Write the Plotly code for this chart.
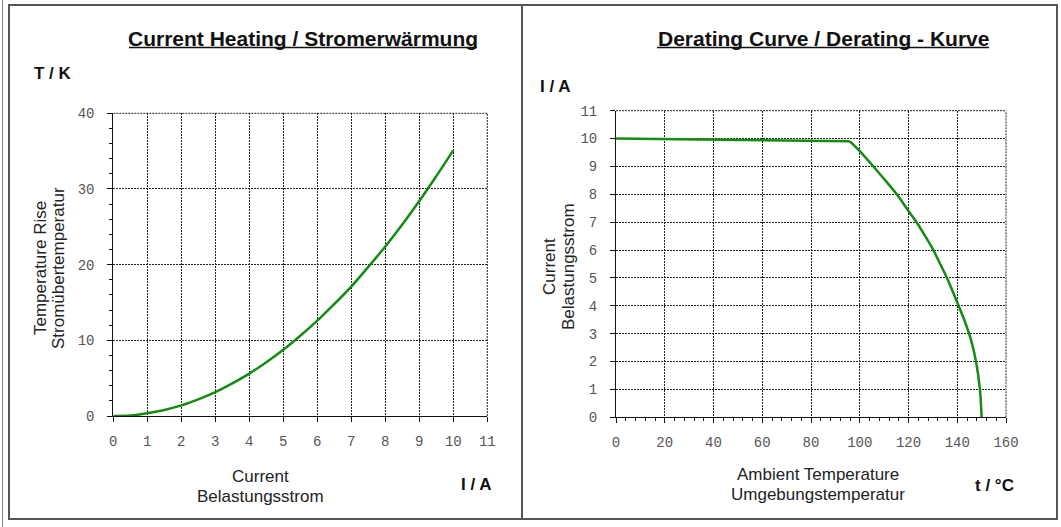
import plotly.graph_objects as go

W, H = 1061, 527

# Current heating: load current (A) vs temperature rise (K)
heat_current = [0, 0.5, 1, 1.5, 2, 2.5, 3, 3.5, 4, 4.5, 5, 5.5, 6, 6.5, 7, 7.5, 8, 8.5, 9, 9.5, 10]
heat_rise = [0, 0.05, 0.35, 0.8, 1.4, 2.2, 3.15, 4.3, 5.6, 7.1, 8.75, 10.6, 12.6, 14.8, 17.1, 19.7, 22.4, 25.3, 28.4, 31.7, 35.1]

# Derating curve: ambient temperature (°C) vs permissible current (A)
derate_temp = [0, 40, 80, 96, 100, 105.6, 110, 115.2, 120, 123.3, 127, 130.2, 133, 135.8, 140, 143.2, 145.5, 147.7, 149.3, 150]
derate_current = [10.0, 9.95, 9.92, 9.9, 9.55, 9.0, 8.55, 8.0, 7.4, 7.0, 6.48, 6.0, 5.5, 5.0, 4.12, 3.42, 2.82, 2.0, 1.0, 0]
KNEE = 3  # index of the knee where derating starts

heat_xticks = list(range(0, 12))
heat_yticks = [0, 10, 20, 30, 40]
derate_xticks = list(range(0, 161, 20))
derate_yticks = list(range(0, 12))

GREEN = "#148c14"
TICKFONT = dict(family="Liberation Mono, Courier New, monospace", size=14, color="#555555")
LABELFONT = dict(family="Liberation Sans, Arial, sans-serif", size=17, color="#222222")
BOLDFONT = dict(family="Liberation Sans, Arial, sans-serif", size=17, color="#111111")
TITLEFONT = dict(family="Liberation Sans, Arial, sans-serif", size=21, color="#111111")


def px(x):
    return x / W


def py(y):
    return 1 - y / H


fig = go.Figure()

fig.add_trace(go.Scatter(x=heat_current, y=heat_rise, mode="lines",
                         line=dict(color=GREEN, width=2.5, shape="spline"),
                         xaxis="x", yaxis="y", showlegend=False, hoverinfo="skip"))
# flat part up to the knee, then the smooth derating part
fig.add_trace(go.Scatter(x=derate_temp[:KNEE + 1], y=derate_current[:KNEE + 1], mode="lines",
                         line=dict(color=GREEN, width=2.5),
                         xaxis="x2", yaxis="y2", showlegend=False, hoverinfo="skip"))
fig.add_trace(go.Scatter(x=derate_temp[KNEE:], y=derate_current[KNEE:], mode="lines",
                         line=dict(color=GREEN, width=2.5, shape="spline", smoothing=0.8),
                         xaxis="x2", yaxis="y2", showlegend=False, hoverinfo="skip"))

common = dict(showgrid=True, gridcolor="#222222", griddash="2px,1px", gridwidth=1,
              showline=True, linecolor="#111111", linewidth=1, zeroline=False,
              ticks="outside", ticklen=5, tickcolor="#111111", tickfont=TICKFONT,
              fixedrange=True)

fig.update_layout(
    width=W, height=H,
    margin=dict(l=0, r=0, t=0, b=0, pad=0, autoexpand=False),
    paper_bgcolor="white", plot_bgcolor="white",
    xaxis=dict(domain=[px(113.3), px(487.3)], range=[0, 11], tickvals=heat_xticks,
               anchor="y", ticklabelstandoff=7, **common),
    yaxis=dict(domain=[py(416), py(113.3)], range=[0, 40], tickvals=heat_yticks,
               anchor="x", ticklabelstandoff=10,
               minor=dict(dtick=2, ticks="outside", ticklen=3, tickcolor="#111111", showgrid=False),
               **common),
    xaxis2=dict(domain=[px(616), px(1006)], range=[0, 160], tickvals=derate_xticks,
                anchor="y2", ticklabelstandoff=7,
                minor=dict(dtick=4, ticks="outside", ticklen=3, tickcolor="#111111", showgrid=False),
                **common),
    yaxis2=dict(domain=[py(417.3), py(110.7)], range=[0, 11], tickvals=derate_yticks,
                anchor="x2", ticklabelstandoff=10, **common),
)

shapes = []
# dotted top and right edges of each plot area
for xr, yr in (("x", "y"), ("x2", "y2")):
    shapes.append(dict(type="line", xref=f"{xr} domain", yref=f"{yr} domain",
                       x0=0, x1=1, y0=1, y1=1,
                       line=dict(color="#222222", width=1, dash="2px,1px")))
    shapes.append(dict(type="line", xref=f"{xr} domain", yref=f"{yr} domain",
                       x0=1, x1=1, y0=0, y1=1,
                       line=dict(color="#222222", width=1, dash="2px,1px")))

# outer frame and the divider between the two panels
shapes.append(dict(type="rect", xref="paper", yref="paper",
                   x0=px(9), x1=px(1057), y0=py(519), y1=py(5),
                   line=dict(color="#555555", width=2)))
shapes.append(dict(type="line", xref="paper", yref="paper",
                   x0=px(522), x1=px(522), y0=py(519), y1=py(5),
                   line=dict(color="#555555", width=2)))
shapes.append(dict(type="line", xref="paper", yref="paper",
                   x0=px(2.5), x1=px(2.5), y0=0, y1=1,
                   line=dict(color="#888888", width=1)))

# title underlines
shapes.append(dict(type="line", xref="paper", yref="paper",
                   x0=px(129), x1=px(477), y0=py(47.5), y1=py(47.5),
                   line=dict(color="#111111", width=1.5)))
shapes.append(dict(type="line", xref="paper", yref="paper",
                   x0=px(657), x1=px(989), y0=py(47.5), y1=py(47.5),
                   line=dict(color="#111111", width=1.5)))

fig.update_layout(shapes=shapes)


def label(text, x, y, font, angle=0):
    fig.add_annotation(text=text, x=px(x), y=py(y), xref="paper", yref="paper",
                       showarrow=False, font=font, textangle=angle,
                       xanchor="center", yanchor="middle")


label("<b>Current Heating / Stromerwärmung</b>", 303, 39, TITLEFONT)
label("<b>Derating Curve / Derating - Kurve</b>", 823, 39, TITLEFONT)

label("<b>T / K</b>", 53, 74, BOLDFONT)
label("<b>I / A</b>", 555, 86, BOLDFONT)
label("<b>I / A</b>", 476, 484, BOLDFONT)
label("<b>t / °C</b>", 994, 485, BOLDFONT)

label("Temperature Rise", 40, 268, LABELFONT, -90)
label("Stromübertemperatur", 58, 268, LABELFONT, -90)
label("Current", 260, 476, LABELFONT)
label("Belastungsstrom", 260, 496, LABELFONT)

label("Current", 549, 267, LABELFONT, -90)
label("Belastungsstrom", 568, 267, LABELFONT, -90)
label("Ambient Temperature", 818, 474, LABELFONT)
label("Umgebungstemperatur", 818, 494, LABELFONT)

fig.write_html("out.html", config={"displayModeBar": False, "staticPlot": True})
